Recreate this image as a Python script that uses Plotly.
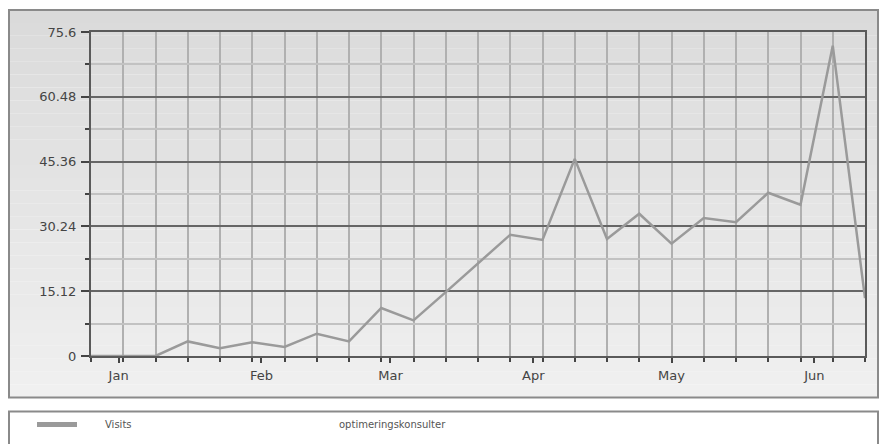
import plotly.graph_objects as go

# ---- data ----
week_dates = [
    "2004-12-26", "2005-01-02", "2005-01-09", "2005-01-16", "2005-01-23",
    "2005-01-30", "2005-02-06", "2005-02-13", "2005-02-20", "2005-02-27",
    "2005-03-06", "2005-03-13", "2005-03-20", "2005-03-27", "2005-04-03",
    "2005-04-10", "2005-04-17", "2005-04-24", "2005-05-01", "2005-05-08",
    "2005-05-15", "2005-05-22", "2005-05-29", "2005-06-05", "2005-06-12",
]
visits = [0, 0, 0, 3.4, 1.8, 3.2, 2.1, 5.2, 3.4, 11.2, 8.3, 14.9, 21.5, 28.3,
          27.1, 46.0, 27.3, 33.2, 26.2, 32.2, 31.2, 38.1, 35.3, 72.4, 13.5]
month_starts = ["2005-01-01", "2005-02-01", "2005-03-01", "2005-04-01",
                "2005-05-01", "2005-06-01"]
month_labels = ["Jan", "Feb", "Mar", "Apr", "May", "Jun"]
y_major = [0, 15.12, 30.24, 45.36, 60.48, 75.6]
y_major_labels = ["0", "15.12", "30.24", "45.36", "60.48", "75.6"]
y_minor = [7.56, 22.68, 37.8, 52.92, 68.04]
series_name = "Visits"
series_note = "optimeringskonsulter"
line_color = "#9a9a9a"

W, H = 880, 444
ML, MR, MT, MB = 91, 15, 32, 88
PW, PH = W - ML - MR, H - MT - MB


def px_x(p):
    return (p - ML) / PW


def px_y(p):
    return (H - MB - p) / PH


fig = go.Figure()
fig.add_trace(go.Scatter(
    x=week_dates, y=visits, mode="lines", name=series_name,
    line=dict(color=line_color, width=2.5), showlegend=False,
    hoverinfo="x+y",
))

shapes = []
# outer frame gradient bands
top_px, bot_px = 10, 397.5
n = 30
c0, c1 = 0xda, 0xf0
for i in range(n):
    a = top_px + (bot_px - top_px) * i / n
    b = top_px + (bot_px - top_px) * (i + 1) / n
    c = int(round(c0 + (c1 - c0) * (i + 0.5) / n))
    col = "#%02x%02x%02x" % (c, c, c)
    shapes.append(dict(type="rect", xref="paper", yref="paper",
                       x0=px_x(9), x1=px_x(878), y0=px_y(b), y1=px_y(a),
                       fillcolor=col, line=dict(width=0), layer="below"))
shapes.append(dict(type="rect", xref="paper", yref="paper",
                   x0=px_x(9), x1=px_x(878), y0=px_y(bot_px), y1=px_y(top_px),
                   fillcolor="rgba(0,0,0,0)",
                   line=dict(color="#8a8a8a", width=2), layer="below"))
# legend box
shapes.append(dict(type="rect", xref="paper", yref="paper",
                   x0=px_x(9), x1=px_x(878), y0=px_y(460), y1=px_y(411.5),
                   fillcolor="white",
                   line=dict(color="#8a8a8a", width=2), layer="below"))
# legend sample line
shapes.append(dict(type="line", xref="paper", yref="paper",
                   x0=px_x(37), x1=px_x(77), y0=px_y(424.5), y1=px_y(424.5),
                   line=dict(color=line_color, width=5), layer="above"))

font = dict(family="DejaVu Sans", size=13, color="#444444")
legend_font = dict(family="DejaVu Sans", size=10, color="#555555")

fig.update_layout(
    width=W, height=H,
    margin=dict(l=ML, r=MR, t=MT, b=MB),
    paper_bgcolor="white",
    plot_bgcolor="rgba(0,0,0,0)",
    font=font,
    shapes=shapes,
    showlegend=False,
    annotations=[
        dict(text=series_name, xref="paper", yref="paper",
             x=px_x(103), y=px_y(424.5), xanchor="left", yanchor="middle",
             showarrow=False, font=legend_font),
        dict(text=series_note, xref="paper", yref="paper",
             x=px_x(337), y=px_y(424.5), xanchor="left", yanchor="middle",
             showarrow=False, font=legend_font),
    ],
    xaxis=dict(
        type="date",
        range=[week_dates[0], week_dates[-1]],
        tickmode="array", tickvals=month_starts, ticktext=month_labels,
        showgrid=False, zeroline=False,
        ticks="outside", ticklen=5, tickwidth=1.5, tickcolor="#444444",
        ticklabelstandoff=1,
        showline=True, linecolor="#5a5a5a", linewidth=2, mirror=True,
        minor=dict(tickmode="array", tickvals=week_dates, showgrid=True,
                   gridcolor="#b0b0b0", gridwidth=2,
                   ticks="outside", ticklen=4, tickwidth=1.5,
                   tickcolor="#444444"),
        fixedrange=True,
    ),
    yaxis=dict(
        range=[0, 75.6],
        tickmode="array", tickvals=y_major, ticktext=y_major_labels,
        showgrid=True, gridcolor="#666666", gridwidth=2, zeroline=False,
        ticks="outside", ticklen=8, tickwidth=1.5, tickcolor="#444444",
        ticklabelstandoff=2,
        showline=True, linecolor="#5a5a5a", linewidth=2, mirror=True,
        minor=dict(tickmode="array", tickvals=y_minor, showgrid=True,
                   gridcolor="#c2c2c2", gridwidth=2,
                   ticks="outside", ticklen=4, tickwidth=1.5,
                   tickcolor="#444444"),
        fixedrange=True,
    ),
)

fig.write_html("out.html")
